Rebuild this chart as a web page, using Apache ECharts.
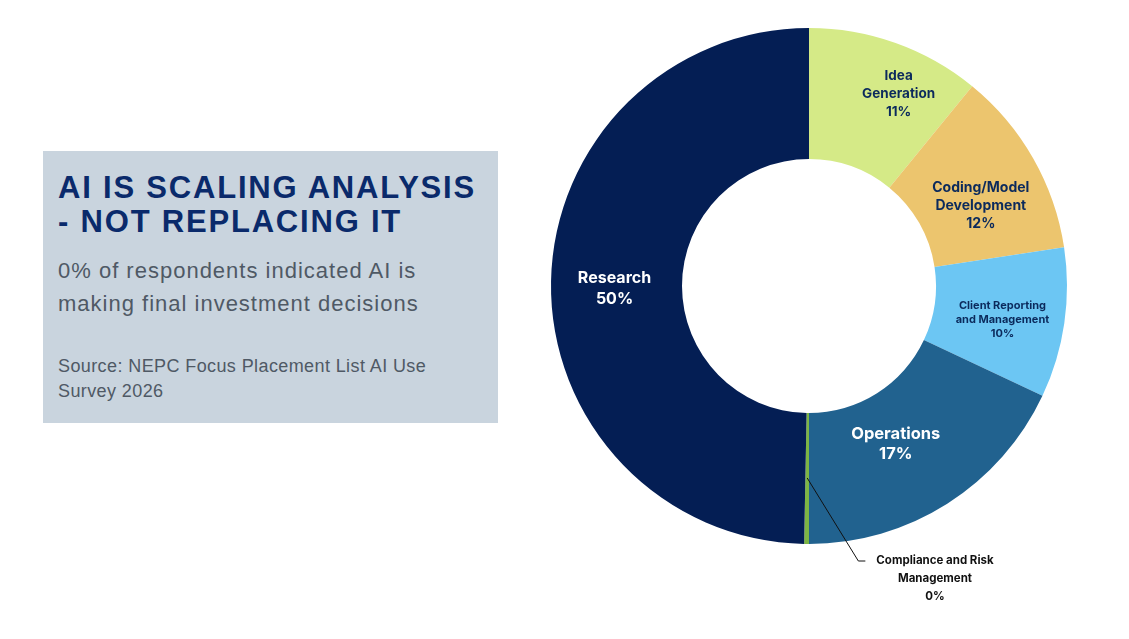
<!DOCTYPE html>
<html>
<head>
<meta charset="utf-8">
<script src="https://cdn.jsdelivr.net/npm/echarts@6/dist/echarts.min.js"></script>
<style>
  html, body { margin: 0; padding: 0; background: #ffffff; }
  #mychart { position: absolute; left: 0; top: 0; width: 1129px; height: 639px; }
  .panel {
    position: absolute; left: 43px; top: 151px; width: 455px; height: 272px;
    background: #c9d4de; box-sizing: border-box; padding: 20px 0 0 15px;
    font-family: "Liberation Sans", Arial, sans-serif;
  }
  .panel .title {
    color: #0a2a6b; font-weight: bold; font-size: 31px; line-height: 34px;
    letter-spacing: 1.8px; margin: 0;
  }
  .panel .sub {
    color: #4f5965; font-size: 22px; line-height: 33px; margin-top: 15px;
    letter-spacing: 1px;
  }
  .panel .src {
    color: #4f5965; font-size: 18px; line-height: 25px; margin-top: 34px;
    letter-spacing: 0.4px;
  }
</style>
</head>
<body>
<div id="mychart"></div>
<div class="panel">
  <div class="title">AI IS SCALING ANALYSIS<br>- NOT REPLACING IT</div>
  <div class="sub">0% of respondents indicated AI is<br>making final investment decisions</div>
  <div class="src">Source: NEPC Focus Placement List AI Use<br>Survey 2026</div>
</div>
<script>
// categories clockwise from 12 o'clock
var categories = ['Idea\nGeneration', 'Coding/Model\nDevelopment', 'Client Reporting\nand Management',
                  'Operations', 'Compliance and Risk\nManagement', 'Research'];
// share of the ring
var shares = [10.9, 11.7, 9.4, 18.0, 0.3, 49.7];
// percentages as printed on the chart
var pctLabels = ['11%', '12%', '10%', '17%', '0%', '50%'];

var colors = ['#d5ea87', '#ecc56e', '#6cc6f3', '#21628f', '#7db544', '#041e54'];
var labelColors = ['#0b2a5c', '#0b2a5c', '#0b2a5c', '#ffffff', '#111111', '#ffffff'];
var labelSizes = [13.5, 14, 11, 16.5, 11.5, 16];
var lineHeights = [18, 18, 14, 20, 18, 21];
// small shifts so the inside labels sit where the original put them
var nudgeX = [24, 2, 0, -18, 0, 1];
var nudgeY = [-8, 17, 6, -7, 0, 5];

var myChart = echarts.init(document.getElementById('mychart'));

var ringData = [];
var leaderData = [];
for (var i = 0; i < categories.length; i++) {
  ringData.push({
    name: categories[i],
    value: shares[i],
    itemStyle: { color: colors[i] },
    label: {
      show: i !== 4,
      color: labelColors[i],
      fontSize: labelSizes[i],
      lineHeight: lineHeights[i]
    }
  });
  // invisible copy at mid-ring radius, only carries the outside label + leader line
  leaderData.push({
    name: categories[i],
    value: shares[i],
    label: {
      show: i === 4,
      color: labelColors[i],
      fontSize: labelSizes[i],
      lineHeight: lineHeights[i]
    },
    labelLine: { show: i === 4 }
  });
}

var labelFont = 'Inter, "Noto Sans", sans-serif';
function fmt(p) { return p.name + '\n' + pctLabels[p.dataIndex]; }

var option = {
  backgroundColor: 'transparent',
  animation: false,
  series: [
    {
      type: 'pie',
      center: [809, 286],
      radius: [127, 258],
      startAngle: 90,
      clockwise: true,
      avoidLabelOverlap: false,
      itemStyle: { borderWidth: 0 },
      label: {
        position: 'inside',
        fontFamily: labelFont,
        fontWeight: 'bold',
        align: 'center',
        formatter: fmt
      },
      labelLine: { show: false },
      labelLayout: function (p) {
        return { dx: nudgeX[p.dataIndex], dy: nudgeY[p.dataIndex] };
      },
      data: ringData
    },
    {
      type: 'pie',
      silent: true,
      z: 5,
      center: [809, 286],
      radius: [127, 192],
      startAngle: 90,
      clockwise: true,
      avoidLabelOverlap: false,
      itemStyle: { color: 'rgba(0,0,0,0)', borderWidth: 0 },
      label: {
        position: 'outside',
        fontFamily: labelFont,
        fontWeight: 'bold',
        align: 'center',
        padding: [0, 0, 0, 11],
        // two empty lines on top so the leader meets the first text line
        formatter: function (p) { return '\n\n' + fmt(p); }
      },
      labelLine: {
        lineStyle: { color: '#111111', width: 1 },
        length: 20, length2: 7
      },
      labelLayout: function (p) {
        if (p.dataIndex === 4) {
          return { x: 929.5, y: 561, align: 'center', verticalAlign: 'middle' };
        }
        return {};
      },
      data: leaderData
    }
  ]
};

myChart.setOption(option);
</script>
</body>
</html>
